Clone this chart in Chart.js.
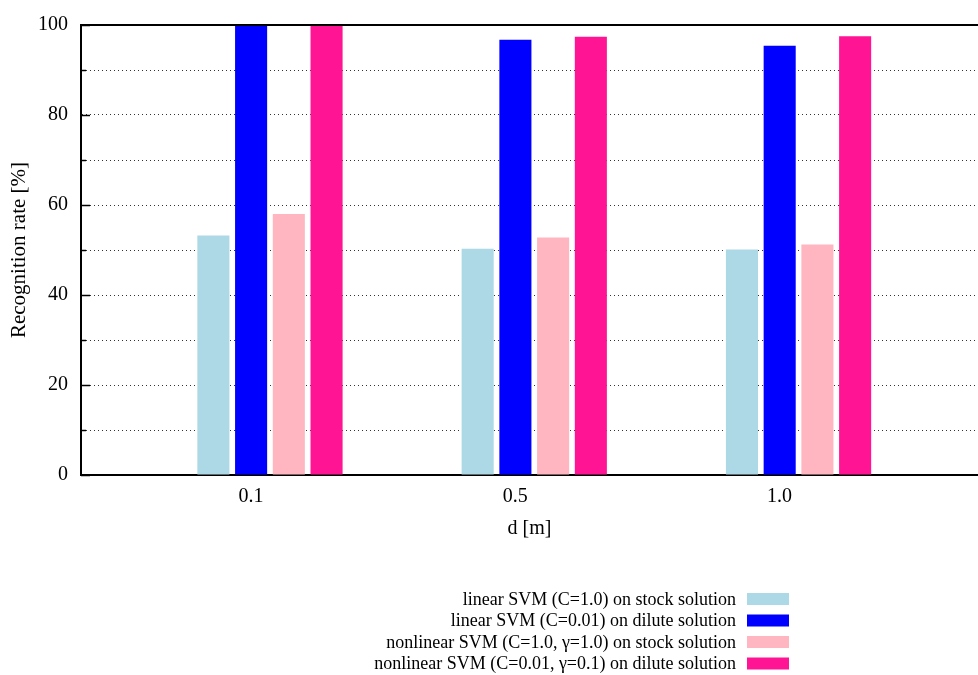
<!DOCTYPE html>
<html>
<head>
<meta charset="utf-8">
<script src="https://cdn.jsdelivr.net/npm/chart.js@4"></script>
<style>
  html, body { margin: 0; padding: 0; background: #fff; }
  #wrap { width: 978px; height: 675px; }
</style>
</head>
<body>
<div id="wrap"><canvas id="chart" width="978" height="675"></canvas></div>
<script>
// Distances (x axis categories)
const categories = ['0.1', '0.5', '1.0'];

// Recognition rates [%] per method
const linearStock = [53.2, 50.3, 50.1];
const linearDilute = [100, 96.7, 95.4];
const nonlinearStock = [58.0, 52.8, 51.2];
const nonlinearDilute = [100, 97.4, 97.5];

const seriesNames = [
  'linear SVM (C=1.0) on stock solution',
  'linear SVM (C=0.01) on dilute solution',
  'nonlinear SVM (C=1.0, \u03b3=1.0) on stock solution',
  'nonlinear SVM (C=0.01, \u03b3=0.1) on dilute solution'
];
const seriesColors = ['#ADD8E6', '#0000FF', '#FFB6C1', '#FF1493'];
const seriesValues = [linearStock, linearDilute, nonlinearStock, nonlinearDilute];

const yTicks = [0, 20, 40, 60, 80, 100];

const FONT = 'Liberation Serif';

// top border, inward ticks and the gnuplot-like legend
const framePlugin = {
  id: 'frame',
  afterDatasetsDraw(chart) {
    const { ctx, chartArea } = chart;
    const y = chart.scales.y;
    ctx.save();
    ctx.strokeStyle = '#000';
    ctx.lineWidth = 2;
    ctx.beginPath();
    ctx.moveTo(chartArea.left, chartArea.top);
    ctx.lineTo(chartArea.right, chartArea.top);
    ctx.stroke();
    ctx.lineWidth = 1.5;
    y.ticks.forEach(t => {
      const py = Math.round(y.getPixelForValue(t.value)) + 0.5;
      const len = yTicks.includes(t.value) ? 9 : 5;
      ctx.beginPath();
      ctx.moveTo(chartArea.left, py);
      ctx.lineTo(chartArea.left + len, py);
      ctx.stroke();
    });
    ctx.restore();
  },
  afterDraw(chart) {
    const { ctx } = chart;
    ctx.save();
    ctx.font = '18px "' + FONT + '"';
    ctx.textAlign = 'right';
    ctx.textBaseline = 'middle';
    chart.data.datasets.forEach((ds, i) => {
      const cy = 599 + i * 21.5;
      ctx.fillStyle = '#000';
      ctx.fillText(ds.label, 736, cy + 1);
      ctx.fillStyle = ds.backgroundColor;
      ctx.fillRect(747, cy - 6, 42, 12);
    });
    ctx.restore();
  }
};

const datasets = seriesNames.map((name, i) => ({
  label: name,
  data: seriesValues[i].map((v, j) => ({ x: j, y: v })),
  backgroundColor: seriesColors[i],
  borderWidth: 0,
  categoryPercentage: 0.571,
  barPercentage: 0.85
}));

new Chart(document.getElementById('chart'), {
  type: 'bar',
  data: { datasets: datasets },
  plugins: [framePlugin],
  options: {
    responsive: false,
    animation: false,
    layout: { padding: { top: 19, right: 0, bottom: 130, left: 0 } },
    plugins: {
      legend: { display: false },
      tooltip: { enabled: false }
    },
    scales: {
      x: {
        type: 'linear',
        offset: false,
        bounds: 'data',
        min: -0.715,
        max: 2.679,
        afterBuildTicks: scale => {
          scale.ticks = categories.map((c, i) => ({ value: i }));
        },
        afterFit: scale => { scale.height = 70; },
        grid: { display: false, drawTicks: false, offset: false },
        border: { display: true, color: '#000', width: 2 },
        ticks: {
          padding: 10,
          labelOffset: -19,
          color: '#000',
          font: { family: FONT, size: 20 },
          callback: v => categories[v]
        },
        title: {
          display: true,
          text: 'd [m]',
          color: '#000',
          font: { family: FONT, size: 20 },
          padding: { top: 0, bottom: 4 }
        }
      },
      y: {
        min: 0,
        max: 100,
        afterFit: scale => { scale.width = 81; },
        grid: {
          color: '#333',
          lineWidth: 1,
          drawTicks: false
        },
        border: { display: true, color: '#000', width: 2, dash: [1, 3] },
        ticks: {
          stepSize: 10,
          padding: 13,
          color: '#000',
          font: { family: FONT, size: 20 },
          callback: v => (yTicks.includes(v) ? v : '')
        },
        title: {
          display: true,
          text: 'Recognition rate [%]',
          color: '#000',
          font: { family: FONT, size: 21 },
          padding: { top: 7, bottom: 0 }
        }
      }
    }
  }
});
</script>
</body>
</html>
